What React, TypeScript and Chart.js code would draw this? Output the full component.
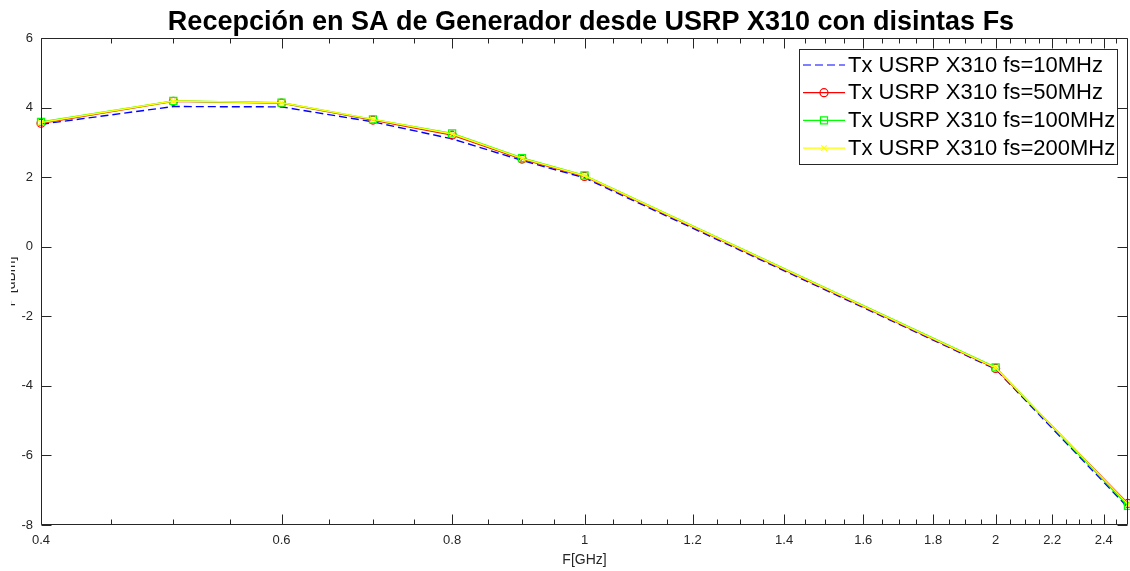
import React, { useEffect, useRef } from "react";
import { Chart, registerables } from "chart.js";

Chart.register(...registerables);

// ---- data ----
const freqGHz = [0.4, 0.5, 0.6, 0.7, 0.8, 0.9, 1, 2, 2.5];
const fs10MHz = [3.52, 4.03, 4.02, 3.59, 3.1, 2.48, 1.98, -3.52, -7.5];
const fs50MHz = [3.55, 4.18, 4.13, 3.64, 3.21, 2.52, 2.02, -3.5, -7.38];
const fs100MHz = [3.59, 4.19, 4.14, 3.66, 3.26, 2.55, 2.05, -3.47, -7.45];
const fs200MHz = [3.57, 4.19, 4.14, 3.66, 3.24, 2.54, 2.04, -3.48, -7.4];

const seriesLabels = [
  "Tx USRP X310 fs=10MHz",
  "Tx USRP X310 fs=50MHz",
  "Tx USRP X310 fs=100MHz",
  "Tx USRP X310 fs=200MHz",
];

const titleText = "Recepción en SA de Generador desde USRP X310 con disintas Fs";
const xTitleText = "F[GHz]";
const yTitleText = "P [dBm]";

const xMajorTicks = [0.4, 0.6, 0.8, 1, 1.2, 1.4, 1.6, 1.8, 2, 2.2, 2.4];
const xAllTicks = [
  0.4, 0.45, 0.5, 0.55, 0.6, 0.65, 0.7, 0.75, 0.8, 0.85, 0.9, 0.95, 1, 1.05,
  1.1, 1.15, 1.2, 1.25, 1.3, 1.35, 1.4, 1.45, 1.5, 1.55, 1.6, 1.65, 1.7, 1.75,
  1.8, 1.85, 1.9, 1.95, 2, 2.05, 2.1, 2.15, 2.2, 2.25, 2.3, 2.35, 2.4, 2.45,
];
const yTickValues = [6, 4, 2, 0, -2, -4, -6, -8];

const FONT = "'Liberation Sans', Arial, Helvetica, sans-serif";
const AXIS = "#262626";

const styles = [
  { color: "#0000ff", dash: [8, 4], point: "none" },
  { color: "#ff0000", dash: [], point: "circle" },
  { color: "#00ff00", dash: [], point: "rect" },
  { color: "#ffff00", dash: [], point: "crossRot" },
];

const isMajor = (v: number) => xMajorTicks.some((m) => Math.abs(m - v) < 1e-9);

function drawMarker(ctx: CanvasRenderingContext2D, kind: string, x: number, y: number) {
  ctx.beginPath();
  if (kind === "circle") {
    ctx.arc(x, y, 4, 0, Math.PI * 2);
  } else if (kind === "rect") {
    ctx.rect(x - 3.5, y - 3.5, 7, 7);
  } else if (kind === "crossRot") {
    ctx.moveTo(x - 2.8, y - 2.8);
    ctx.lineTo(x + 2.8, y + 2.8);
    ctx.moveTo(x + 2.8, y - 2.8);
    ctx.lineTo(x - 2.8, y + 2.8);
  } else {
    return;
  }
  ctx.stroke();
}

const matlabAxes = {
  id: "matlabAxes",
  afterDatasetsDraw(chart: any) {
    const { ctx, chartArea } = chart;
    const { left, right, top, bottom } = chartArea;
    const xs = chart.scales.x;
    const ys = chart.scales.y;
    ctx.save();
    ctx.strokeStyle = AXIS;
    ctx.lineWidth = 1;
    ctx.setLineDash([]);
    const L = Math.round(left) + 0.5;
    const R = Math.round(right) - 0.5;
    const T = Math.round(top) + 0.5;
    const B = Math.round(bottom) - 0.5;
    ctx.beginPath();
    ctx.rect(L, T, R - L, B - T);
    ctx.stroke();
    ctx.beginPath();
    for (const v of xAllTicks) {
      const px = Math.round(xs.getPixelForValue(v)) + 0.5;
      const len = isMajor(v) ? 10 : 5;
      ctx.moveTo(px, B);
      ctx.lineTo(px, B - len);
      ctx.moveTo(px, T);
      ctx.lineTo(px, T + len);
    }
    for (const v of yTickValues) {
      const py = Math.round(ys.getPixelForValue(v)) + 0.5;
      ctx.moveTo(L, py);
      ctx.lineTo(L + 10, py);
      ctx.moveTo(R, py);
      ctx.lineTo(R - 10, py);
    }
    ctx.stroke();
    ctx.restore();
  },
  afterDraw(chart: any) {
    const { ctx, chartArea } = chart;
    // title
    ctx.save();
    ctx.font = `bold 27px ${FONT}`;
    ctx.fillStyle = "#000000";
    ctx.textAlign = "center";
    ctx.textBaseline = "alphabetic";
    ctx.fillText(titleText, 591, 30);
    ctx.restore();

    // clipped y-axis title
    ctx.save();
    ctx.beginPath();
    ctx.rect(11, 0, 30, chart.height);
    ctx.clip();
    ctx.translate(15, (chartArea.top + chartArea.bottom) / 2);
    ctx.rotate(-Math.PI / 2);
    ctx.font = `14px ${FONT}`;
    ctx.fillStyle = AXIS;
    ctx.textAlign = "center";
    ctx.textBaseline = "alphabetic";
    ctx.fillText(yTitleText, 0, 0);
    ctx.restore();

    // legend
    ctx.save();
    const bx = 799.5, by = 49.5, bw = 318, bh = 115;
    ctx.fillStyle = "#ffffff";
    ctx.fillRect(bx, by, bw, bh);
    ctx.strokeStyle = AXIS;
    ctx.lineWidth = 1;
    ctx.strokeRect(bx, by, bw, bh);
    ctx.font = `22px ${FONT}`;
    ctx.textBaseline = "middle";
    ctx.textAlign = "left";
    seriesLabels.forEach((label, i) => {
      const cy = 65 + i * 27.7;
      const st = styles[i];
      ctx.strokeStyle = st.color;
      ctx.lineWidth = 1.2;
      ctx.setLineDash(st.dash);
      ctx.beginPath();
      ctx.moveTo(803, cy);
      ctx.lineTo(845, cy);
      ctx.stroke();
      ctx.setLineDash([]);
      drawMarker(ctx, st.point, 824, cy);
      ctx.fillStyle = "#000000";
      ctx.fillText(label, 848, cy + 0.5);
    });
    ctx.restore();
  },
};

export default function App() {
  const ref = useRef<HTMLCanvasElement | null>(null);

  useEffect(() => {
    if (!ref.current) return;
    const series = [fs10MHz, fs50MHz, fs100MHz, fs200MHz];
    const datasets = series.map((vals, i) => {
      const st = styles[i];
      return {
        label: seriesLabels[i],
        data: freqGHz.map((f, k) => ({ x: f, y: vals[k] })),
        borderColor: st.color,
        borderWidth: 1.4,
        borderDash: st.dash,
        pointStyle: st.point === "none" ? "circle" : st.point,
        pointRadius: st.point === "none" ? 0 : st.point === "rect" ? 5 : 4,
        pointBorderColor: st.color,
        pointBackgroundColor: "rgba(0,0,0,0)",
        pointBorderWidth: 1.2,
        fill: false,
        tension: 0,
        clip: false as any,
        order: 4 - i,
      };
    });

    const chart = new Chart(ref.current, {
      type: "line",
      data: { datasets },
      plugins: [matlabAxes],
      options: {
        responsive: false,
        animation: false,
        devicePixelRatio: 1,
        layout: { autoPadding: false, padding: { left: 0, right: 2, top: 38, bottom: 0 } },
        plugins: {
          legend: { display: false },
          tooltip: { enabled: false },
          title: { display: false },
        },
        scales: {
          x: {
            type: "logarithmic",
            min: 0.4,
            max: 2.5,
            afterBuildTicks: (s: any) => {
              s.ticks = xAllTicks.map((v) => ({ value: v }));
            },
            afterFit: (s: any) => {
              s.height = 46;
              s.paddingLeft = 0;
              s.paddingRight = 0;
            },
            grid: { display: false, drawTicks: false },
            border: { display: false },
            ticks: {
              autoSkip: false,
              maxRotation: 0,
              minRotation: 0,
              padding: 8,
              color: AXIS,
              font: { family: FONT, size: 13 },
              callback: (v: any) => (isMajor(Number(v)) ? String(Number(v)) : ""),
            },
            title: {
              display: true,
              text: xTitleText,
              color: AXIS,
              font: { family: FONT, size: 14 },
              padding: { top: 0, bottom: 2 },
            },
          },
          y: {
            type: "linear",
            min: -8,
            max: 6,
            afterBuildTicks: (s: any) => {
              s.ticks = yTickValues.map((v) => ({ value: v }));
            },
            afterFit: (s: any) => {
              s.width = 41;
              s.paddingTop = 0;
              s.paddingBottom = 0;
            },
            grid: { display: false, drawTicks: false },
            border: { display: false },
            ticks: {
              padding: 8,
              color: AXIS,
              font: { family: FONT, size: 13 },
            },
          },
        },
      } as any,
    });
    return () => chart.destroy();
  }, []);

  return (
    <div style={{ position: "absolute", left: 0, top: 0, width: 1130, height: 571, background: "#fff" }}>
      <canvas ref={ref} width={1130} height={571} style={{ display: "block" }} />
    </div>
  );
}
